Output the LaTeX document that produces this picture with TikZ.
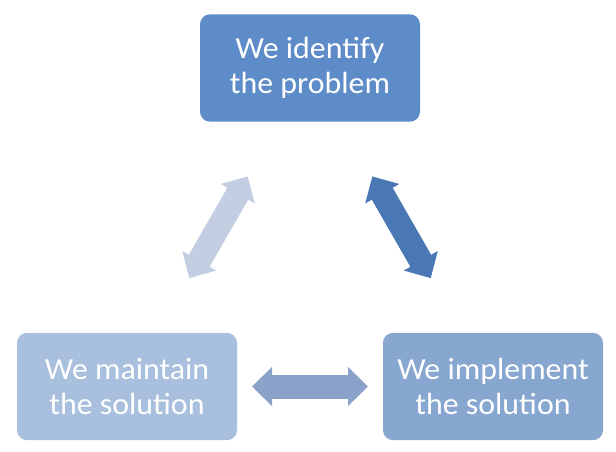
\documentclass[tikz,border=0pt]{standalone}
\usepackage{fontspec}
\setmainfont{Carlito}[FakeStretch=1.04]
\usetikzlibrary{arrows.meta}
\definecolor{topc}{HTML}{5E8CC8}
\definecolor{leftc}{HTML}{A8BFDE}
\definecolor{rightc}{HTML}{87A6D0}
\definecolor{harr}{HTML}{8AA2CA}
\definecolor{larr}{HTML}{C3CEE3}
\definecolor{rarr}{HTML}{4A78B5}
\tikzset{
  box/.style={fill=#1, draw=none, rounded corners=7.5pt, minimum width=165pt, minimum height=80.5pt,
    text=white, align=center, inner sep=0pt,
    font=\fontsize{23pt}{26.25pt}\selectfont},
  dblarrow/.style={draw=#1, line width=18pt, shorten <=93.75pt, shorten >=93.75pt,
    {Triangle[length=15pt,width=28.5pt]}-{Triangle[length=15pt,width=28.5pt]}}
}
\begin{document}
\begin{tikzpicture}[x=0.75pt,y=-0.75pt]
\useasboundingbox (0,0) rectangle (616,451);
\node[box=topc] (top) at (310,68) {We identify\\the problem};
\node[box=leftc] (left) at (127,386.5) {We maintain\\the solution};
\node[box=rightc] (right) at (493,386.5) {We implement\\the solution};
\draw[dblarrow=larr] (left.center) -- (top.center);
\draw[dblarrow=rarr] (top.center) -- (right.center);
\draw[dblarrow=harr] (left.center) -- (right.center);
\end{tikzpicture}
\end{document}
